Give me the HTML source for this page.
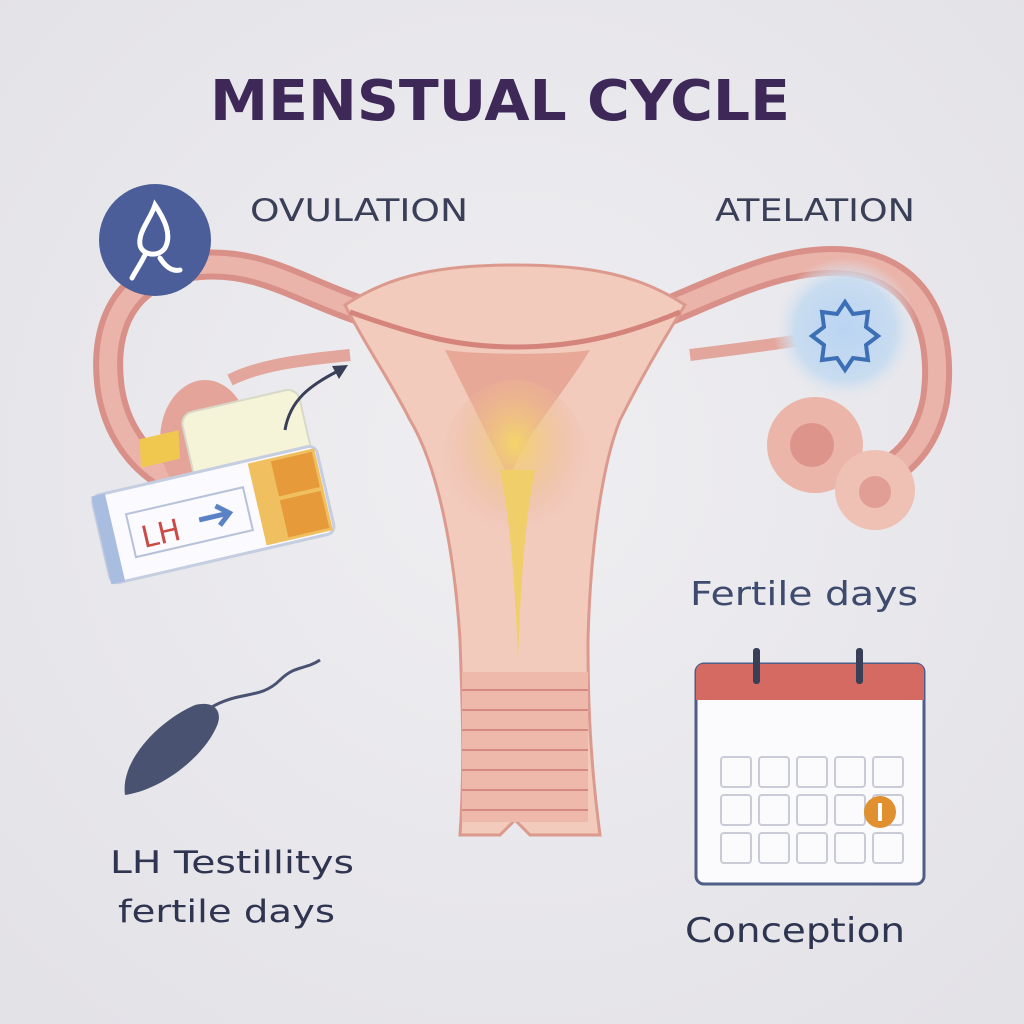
<!DOCTYPE html>
<html><head><meta charset="utf-8"><style>
html,body{margin:0;padding:0;background:#e9e8ec;}
svg{display:block}
text{font-family:"DejaVu Sans","Liberation Sans",sans-serif}
</style></head><body>
<svg width="1024" height="1024" viewBox="0 0 1024 1024" xmlns="http://www.w3.org/2000/svg">
<defs>
<radialGradient id="bg" cx="50%" cy="45%" r="70%"><stop offset="0" stop-color="#efeef1"/><stop offset="1" stop-color="#e3e2e7"/></radialGradient>
<radialGradient id="glow" cx="50%" cy="50%" r="50%"><stop offset="0" stop-color="#b9d4f2"/><stop offset="0.7" stop-color="#c9dcf0"/><stop offset="1" stop-color="#e6e8ee" stop-opacity="0"/></radialGradient>
<radialGradient id="yel" cx="50%" cy="35%" r="50%"><stop offset="0" stop-color="#f4d56a"/><stop offset="1" stop-color="#eab0a0" stop-opacity="0"/></radialGradient>
</defs>
<rect width="1024" height="1024" fill="url(#bg)"/>
<text x="210" y="120" font-size="56" font-weight="bold" fill="#3d2858" textLength="580" lengthAdjust="spacingAndGlyphs">MENSTUAL CYCLE</text>
<text x="250" y="221" font-size="31" fill="#3a3f58" textLength="218" lengthAdjust="spacingAndGlyphs">OVULATION</text>
<text x="715" y="221" font-size="31" fill="#3a3f58" textLength="200" lengthAdjust="spacingAndGlyphs">ATELATION</text>

<!-- left tube -->
<path d="M360 310 C300 290 260 260 200 265 C130 270 100 320 110 390 C118 440 150 470 175 480" fill="none" stroke="#d99088" stroke-width="30" stroke-linecap="round"/>
<path d="M360 310 C300 290 260 260 200 265 C130 270 100 320 110 390 C118 440 150 470 175 480" fill="none" stroke="#eab4aa" stroke-width="18" stroke-linecap="round"/>
<path d="M350 355 C300 360 260 365 230 380" fill="none" stroke="#e2a69c" stroke-width="12"/>
<ellipse cx="205" cy="440" rx="45" ry="60" fill="#e4a49a"/>
<!-- right tube -->
<path d="M670 310 C730 285 790 255 850 262 C920 270 945 330 935 400 C925 450 895 470 870 480" fill="none" stroke="#d99088" stroke-width="30" stroke-linecap="round"/>
<path d="M670 310 C730 285 790 255 850 262 C920 270 945 330 935 400 C925 450 895 470 870 480" fill="none" stroke="#eab4aa" stroke-width="18" stroke-linecap="round"/>
<path d="M690 355 C730 350 770 345 800 340" fill="none" stroke="#e2a69c" stroke-width="12"/>
<circle cx="845" cy="330" r="72" fill="url(#glow)"/>
<polygon points="845,302 853,314 868,312 866,327 878,336 866,345 868,360 853,358 845,370 837,358 822,360 824,345 812,336 824,327 822,312 837,314" fill="none" stroke="#3c6fb5" stroke-width="4"/>
<circle cx="815" cy="445" r="48" fill="#ebb5a9"/>
<circle cx="812" cy="445" r="22" fill="#dd948a"/>
<circle cx="875" cy="490" r="40" fill="#efc0b4"/>
<circle cx="875" cy="492" r="16" fill="#e09e94"/>

<!-- uterus -->
<path d="M345 305 C390 275 440 265 515 265 C590 265 640 275 685 305 C660 345 640 380 620 420 C600 470 590 560 588 640 C588 700 590 760 600 835 L530 835 L515 820 L500 835 L460 835 C465 760 462 700 460 640 C455 560 440 470 410 420 C390 380 365 345 345 305 Z" fill="#f2cbbd" stroke="#dc9a8e" stroke-width="3"/>
<path d="M350 312 C420 337 460 347 515 347 C570 347 620 337 680 312" fill="none" stroke="#d4847a" stroke-width="5"/>
<path d="M445 350 C470 400 490 440 510 480 C520 440 560 400 590 350 C560 355 480 355 445 350 Z" fill="#e8a898"/>
<ellipse cx="515" cy="470" rx="75" ry="90" fill="url(#yel)"/>
<path d="M500 470 C510 520 515 580 518 660 C521 580 525 520 535 470 Z" fill="#f0cf6a"/>
<rect x="462" y="672" width="126" height="150" fill="#eeb8aa"/>
<g stroke="#d48a80" stroke-width="2">
<line x1="462" y1="690" x2="588" y2="690"/><line x1="462" y1="710" x2="588" y2="710"/><line x1="462" y1="730" x2="588" y2="730"/><line x1="462" y1="750" x2="588" y2="750"/><line x1="462" y1="770" x2="588" y2="770"/><line x1="462" y1="790" x2="588" y2="790"/><line x1="462" y1="810" x2="588" y2="810"/></g>

<!-- ovulation icon -->
<circle cx="155" cy="240" r="56" fill="#4b5e99"/>
<path d="M155 205 C165 220 172 235 165 248 C158 258 142 255 140 245 C138 232 150 220 155 205 Z" fill="none" stroke="#fff" stroke-width="5"/>
<path d="M145 255 C140 265 135 272 132 278 M160 258 C165 266 172 272 180 270" fill="none" stroke="#fff" stroke-width="5" stroke-linecap="round"/>

<!-- test strip -->
<g transform="rotate(-13 210 500)">
<rect x="200" y="410" width="120" height="80" rx="12" fill="#f5f3d8" stroke="#d8d9c8" stroke-width="2"/>
<rect x="230" y="425" width="40" height="28" fill="#f0c850" transform="skewX(-10)"/>
<rect x="95" y="470" width="230" height="90" rx="8" fill="#fafaff" stroke="#c5cde0" stroke-width="3"/>
<rect x="95" y="470" width="14" height="90" fill="#a8bde0"/>
<rect x="255" y="473" width="68" height="84" fill="#f0c060"/>
<rect x="278" y="476" width="42" height="36" fill="#e79a3a"/>
<rect x="278" y="516" width="42" height="38" fill="#e79a3a"/>
<rect x="125" y="495" width="120" height="44" fill="none" stroke="#b7c2d8" stroke-width="2"/>
<text x="135" y="532" font-size="30" fill="#cc4a45">LH</text>
<path d="M195 517 L222 517 M214 507 L226 517 L214 527" stroke="#5a82c5" stroke-width="5" fill="none"/>
</g>
<path d="M285 430 C290 400 310 385 340 370" fill="none" stroke="#3a3f58" stroke-width="3"/>
<polygon points="348,365 332,366 339,379" fill="#3a3f58"/>

<!-- sperm -->
<path d="M125 795 C120 760 160 720 195 705 C215 700 225 712 215 730 C200 760 160 790 125 795 Z" fill="#4a5272"/>
<path d="M210 708 C240 690 260 700 280 680 C295 665 305 670 320 660" fill="none" stroke="#4a5272" stroke-width="3"/>

<text x="110" y="873" font-size="31" fill="#2f3550" textLength="244" lengthAdjust="spacingAndGlyphs">LH Testillitys</text>
<text x="118" y="922" font-size="31" fill="#2f3550" textLength="217" lengthAdjust="spacingAndGlyphs">fertile days</text>
<text x="690" y="605" font-size="33" fill="#3e4a6e" textLength="228" lengthAdjust="spacingAndGlyphs">Fertile days</text>
<text x="685" y="942" font-size="34" fill="#2e3550" textLength="220" lengthAdjust="spacingAndGlyphs">Conception</text>

<!-- calendar -->
<rect x="696" y="664" width="228" height="220" rx="8" fill="#fbfbfd" stroke="#4e5e86" stroke-width="3"/>
<path d="M696 700 L696 672 Q696 664 704 664 L916 664 Q924 664 924 672 L924 700 Z" fill="#d46a62"/>
<rect x="753" y="648" width="7" height="36" rx="3" fill="#3a3f58"/>
<rect x="856" y="648" width="7" height="36" rx="3" fill="#3a3f58"/>
<g fill="none" stroke="#c9cbd6" stroke-width="2">
<rect x="721" y="757" width="30" height="30" rx="3"/><rect x="759" y="757" width="30" height="30" rx="3"/><rect x="797" y="757" width="30" height="30" rx="3"/><rect x="835" y="757" width="30" height="30" rx="3"/><rect x="873" y="757" width="30" height="30" rx="3"/>
<rect x="721" y="795" width="30" height="30" rx="3"/><rect x="759" y="795" width="30" height="30" rx="3"/><rect x="797" y="795" width="30" height="30" rx="3"/><rect x="835" y="795" width="30" height="30" rx="3"/><rect x="873" y="795" width="30" height="30" rx="3"/>
<rect x="721" y="833" width="30" height="30" rx="3"/><rect x="759" y="833" width="30" height="30" rx="3"/><rect x="797" y="833" width="30" height="30" rx="3"/><rect x="835" y="833" width="30" height="30" rx="3"/><rect x="873" y="833" width="30" height="30" rx="3"/>
</g>
<circle cx="880" cy="812" r="16" fill="#e0902e"/>
<rect x="878" y="803" width="4" height="18" fill="#fff"/>
</svg>
</body></html>
